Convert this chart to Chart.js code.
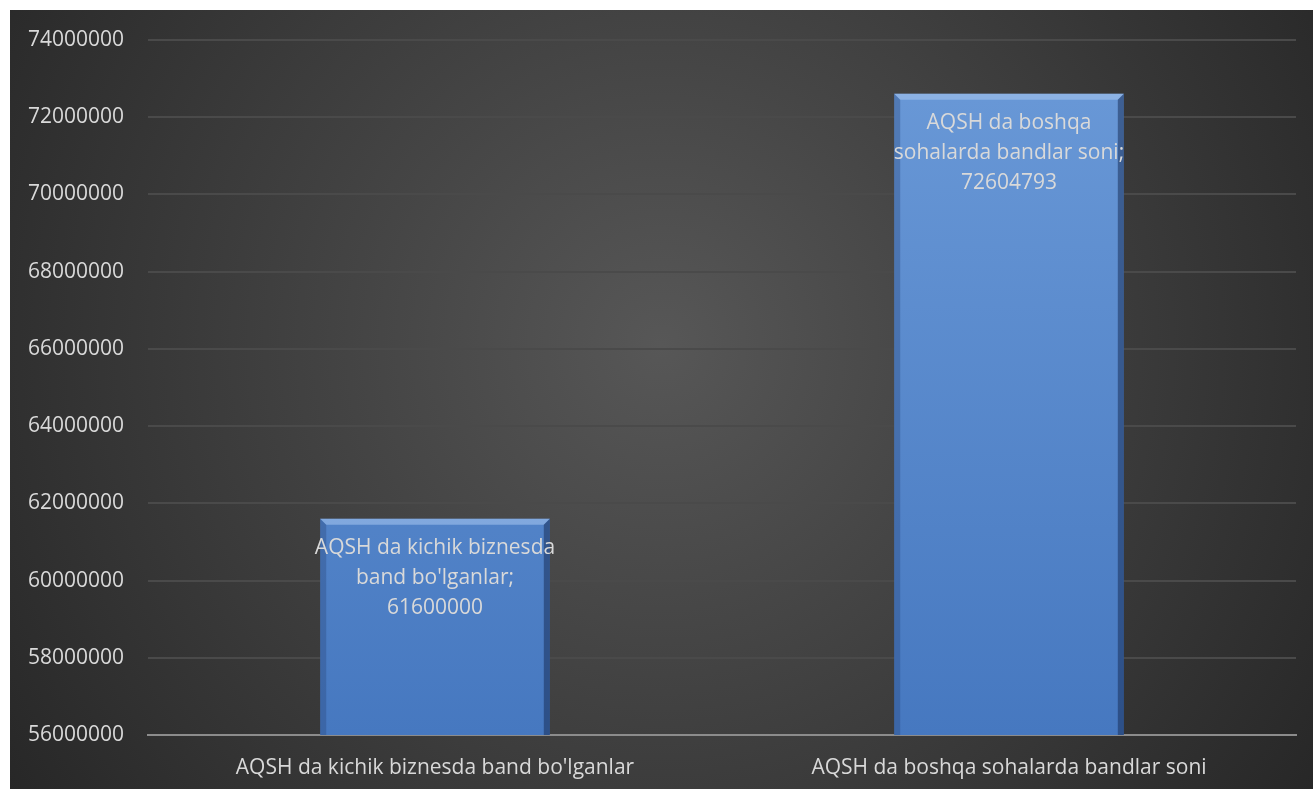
<!DOCTYPE html>
<html>
<head>
<meta charset="utf-8">
<script src="https://cdn.jsdelivr.net/npm/chart.js@4"></script>
<style>
  html, body { margin: 0; padding: 0; background: #ffffff; }
  #wrap { position: absolute; left: 10px; top: 10px; width: 1303px; height: 779px; }
</style>
</head>
<body>
<div id="wrap"><canvas id="c"></canvas></div>
<script>
const categories = ["AQSH da kichik biznesda band bo'lganlar", "AQSH da boshqa sohalarda bandlar soni"];
const values = [61600000, 72604793];
const labelLines = [["AQSH da kichik biznesda", "band bo'lganlar;"], ["AQSH da boshqa", "sohalarda bandlar soni;"]];
const yMin = 56000000, yMax = 74000000, yStep = 2000000;

const FONT = "'Open Sans', 'Noto Sans', sans-serif";
const TEXT = '#d9d9d9';

const bgPlugin = {
  id: 'bg',
  beforeDraw(chart) {
    const { ctx, width, height } = chart;
    ctx.save();
    const g = ctx.createRadialGradient(width * 0.5, height * 0.43, 0, width * 0.5, height * 0.43, Math.max(width, height) * 0.62);
    g.addColorStop(0, '#575757');
    g.addColorStop(1, '#262626');
    ctx.fillStyle = g;
    ctx.fillRect(0, 0, width, height);
    ctx.restore();
  }
};

const bevelPlugin = {
  id: 'bevel',
  afterDatasetsDraw(chart) {
    const { ctx, chartArea } = chart;
    const meta = chart.getDatasetMeta(0);
    ctx.save();
    ctx.beginPath();
    ctx.rect(chartArea.left, chartArea.top, chartArea.right - chartArea.left, chartArea.bottom - chartArea.top);
    ctx.clip();
    meta.data.forEach((bar, i) => {
      const w = bar.width, l = bar.x - w / 2, r = bar.x + w / 2, t = bar.y, b = Math.min(bar.base, chartArea.bottom);
      const e = 6;
      ctx.fillStyle = 'rgba(170,200,240,0.55)';
      ctx.beginPath(); ctx.moveTo(l, t); ctx.lineTo(r, t); ctx.lineTo(r - e, t + e); ctx.lineTo(l + e, t + e); ctx.closePath(); ctx.fill();
      ctx.fillStyle = 'rgba(40,70,120,0.35)';
      ctx.beginPath(); ctx.moveTo(l, t); ctx.lineTo(l + e, t + e); ctx.lineTo(l + e, b); ctx.lineTo(l, b); ctx.closePath(); ctx.fill();
      ctx.fillStyle = 'rgba(20,40,80,0.5)';
      ctx.beginPath(); ctx.moveTo(r, t); ctx.lineTo(r - e, t + e); ctx.lineTo(r - e, b); ctx.lineTo(r, b); ctx.closePath(); ctx.fill();
    });
    ctx.restore();
    ctx.save();
    meta.data.forEach((bar, i) => {
      ctx.fillStyle = TEXT;
      ctx.font = '21px ' + FONT;
      ctx.textAlign = 'center';
      ctx.textBaseline = 'middle';
      const lines = labelLines[i].concat([String(values[i])]);
      lines.forEach((ln, k) => ctx.fillText(ln, bar.x, bar.y + 29 + k * 30));
    });
    ctx.restore();
  }
};

new Chart(document.getElementById('c'), {
  type: 'bar',
  data: {
    labels: categories,
    datasets: [{
      data: values,
      backgroundColor(ctx) {
        const ch = ctx.chart;
        const area = ch.chartArea;
        if (!area) return '#5a8ad0';
        const g = ch.ctx.createLinearGradient(0, area.top, 0, area.bottom);
        g.addColorStop(0, '#6b9ad8');
        g.addColorStop(1, '#4678c0');
        return g;
      },
      borderWidth: 0,
      categoryPercentage: 1,
      barPercentage: 0.4
    }]
  },
  options: {
    responsive: true,
    maintainAspectRatio: false,
    animation: false,
    layout: { padding: { top: 30, right: 17, left: 0, bottom: 0 } },
    plugins: { legend: { display: false }, tooltip: { enabled: false } },
    scales: {
      x: {
        grid: { display: false, drawTicks: false },
        border: { display: true, color: '#8c8c8c', width: 2 },
        ticks: { color: TEXT, font: { family: FONT, size: 21 }, padding: 20, maxRotation: 0 },
        afterFit(s) { s.height = 54; }
      },
      y: {
        min: yMin, max: yMax,
        grid: { color: '#4a4a4a', lineWidth: 2, drawTicks: false },
        border: { display: false },
        ticks: { stepSize: yStep, color: TEXT, font: { family: FONT, size: 21 }, padding: 24, callback: v => String(v) },
        afterFit(s) { s.width = 138; s.paddingTop = 0; s.paddingBottom = 0; }
      }
    }
  },
  plugins: [bgPlugin, bevelPlugin]
});
</script>
</body>
</html>
